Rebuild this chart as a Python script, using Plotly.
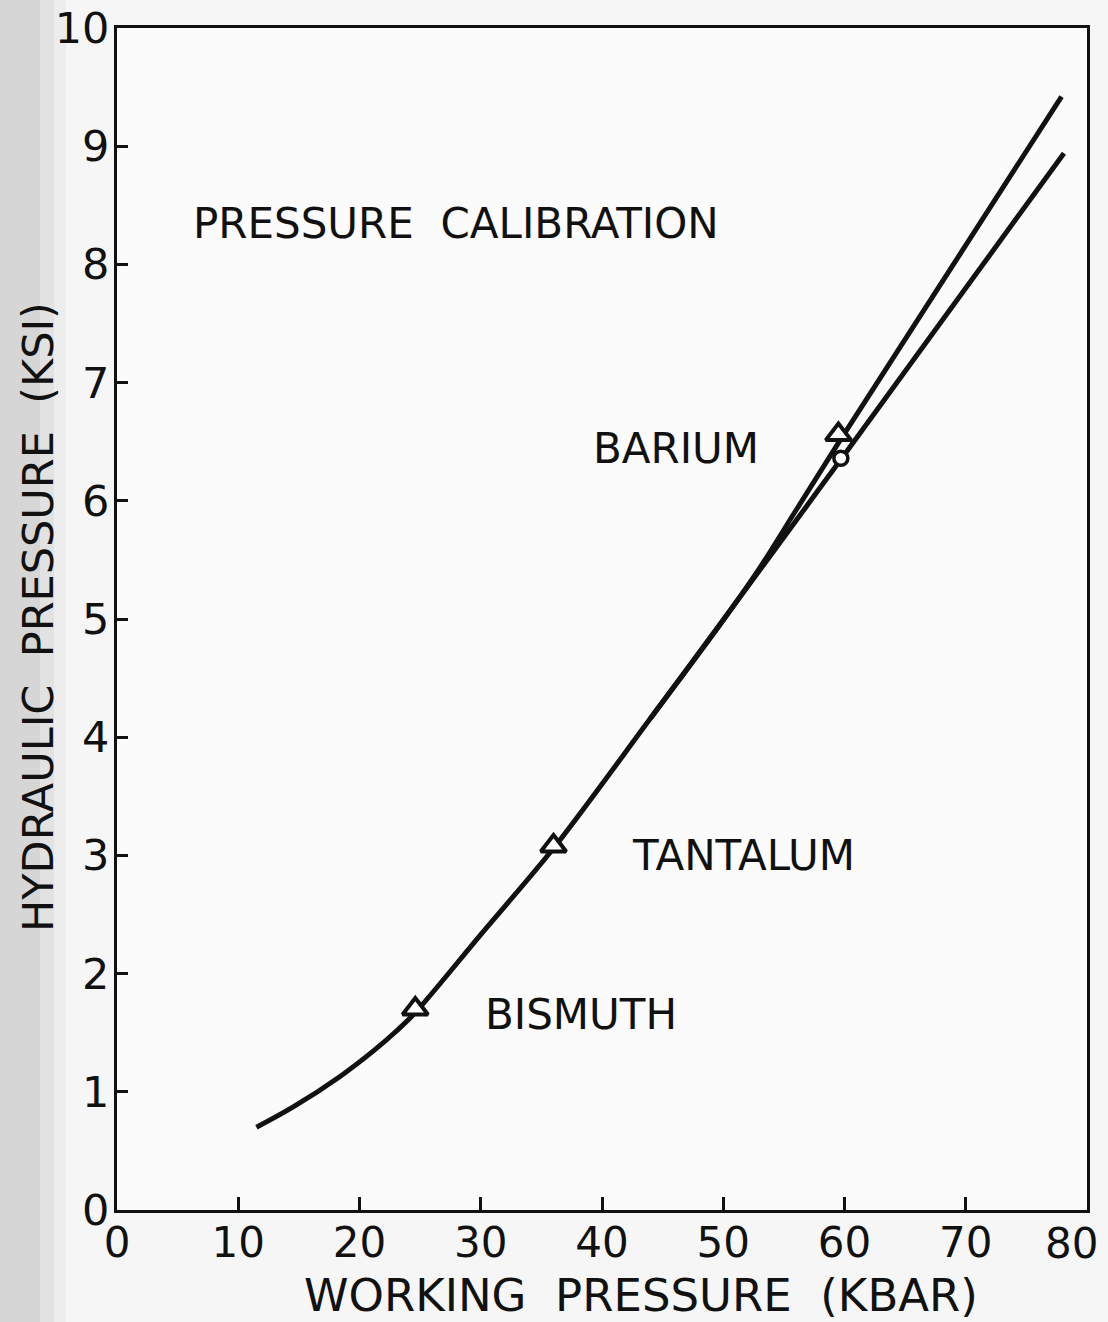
import plotly.graph_objects as go

# Calibration curve (working pressure in kbar vs hydraulic pressure in ksi)
lower_x = [11.5, 14.5, 18.4, 21.2, 23.0, 24.6, 30.0, 36.0, 44.0, 51.2, 57.2, 59.7, 78.1]
lower_y = [0.70, 0.87, 1.13, 1.35, 1.51, 1.67, 2.33, 3.06, 4.16, 5.16, 6.00, 6.35, 8.94]

# Upper branch splitting off above ~50 kbar
upper_x = [44.0, 50.0, 53.0, 56.0, 59.5, 77.9]
upper_y = [4.16, 4.99, 5.43, 5.92, 6.49, 9.42]

# Fixed-point transitions
tri_names = ["BISMUTH", "TANTALUM", "BARIUM"]
tri_x = [24.6, 36.0, 59.5]
tri_y = [1.70, 3.08, 6.56]
circ_x = [59.7]
circ_y = [6.36]

# Text labels on the plot
label_text = ["PRESSURE\u00a0\u00a0CALIBRATION", "BARIUM", "TANTALUM", "BISMUTH"]
label_x = [6.1, 39.1, 42.3, 30.2]
label_y = [8.35, 6.44, 3.0, 1.65]

x_ticks = [0, 10, 20, 30, 40, 50, 60, 70, 80]
y_ticks = [0, 1, 2, 3, 4, 5, 6, 7, 8, 9, 10]

FONT = "DejaVu Sans"
INK = "#111111"

fig = go.Figure()
fig.add_trace(go.Scatter(x=lower_x, y=lower_y, mode="lines",
                         line=dict(color=INK, width=5, shape="spline", smoothing=0.9),
                         hoverinfo="skip"))
fig.add_trace(go.Scatter(x=upper_x, y=upper_y, mode="lines",
                         line=dict(color=INK, width=5, shape="spline", smoothing=0.9),
                         hoverinfo="skip"))
fig.add_trace(go.Scatter(x=tri_x, y=tri_y, mode="markers", text=tri_names,
                         marker=dict(symbol="triangle-up", size=22, color="white",
                                     line=dict(color=INK, width=4))))
fig.add_trace(go.Scatter(x=circ_x, y=circ_y, mode="markers",
                         marker=dict(symbol="circle", size=14, color="white",
                                     line=dict(color=INK, width=3.5))))

for t, x, y in zip(label_text, label_x, label_y):
    fig.add_annotation(x=x, y=y, text=t, showarrow=False, xanchor="left", yanchor="middle",
                       font=dict(family=FONT, size=42, color=INK))

L, R, T, B = 117, 21, 28, 112
pw = 1108 - L - R
ph = 1322 - T - B
bottom = 1322 - B

# The last x tick label sits at the frame corner; draw it nudged inward
x_ticktext = [str(v) for v in x_ticks[:-1]] + [""]
fig.add_annotation(x=x_ticks[-1], y=0, yref="y", xref="x", text=str(x_ticks[-1]),
                   showarrow=False, xanchor="right", yanchor="middle",
                   xshift=13, yshift=-33,
                   font=dict(family=FONT, size=42, color=INK))

# Axis titles placed at fixed page positions
fig.add_annotation(xref="paper", yref="paper", x=(641 - L) / pw, y=(bottom - 1295) / ph,
                   text="WORKING\u00a0\u00a0PRESSURE\u00a0\u00a0(KBAR)", showarrow=False,
                   xanchor="center", yanchor="middle",
                   font=dict(family=FONT, size=45, color=INK))
fig.add_annotation(xref="paper", yref="paper", x=(38 - L) / pw, y=(bottom - 617) / ph,
                   text="HYDRAULIC\u00a0\u00a0PRESSURE\u00a0\u00a0(KSI)", showarrow=False,
                   textangle=-90, xanchor="center", yanchor="middle",
                   font=dict(family=FONT, size=43, color=INK))

# Scanner-edge shading along the left margin
for x0, x1, c in [(0, 40, "#d6d6d6"), (40, 54, "#e2e2e2"), (54, 66, "#ededed")]:
    fig.add_shape(type="rect", xref="paper", yref="paper",
                  x0=(x0 - L) / pw, x1=(x1 - L) / pw, y0=-0.2, y1=1.1,
                  fillcolor=c, line=dict(width=0), layer="below")

fig.update_layout(
    width=1108, height=1322,
    margin=dict(l=L, r=R, t=T, b=B, autoexpand=False),
    paper_bgcolor="#f6f6f6", plot_bgcolor="#fbfbfb",
    showlegend=False,
    font=dict(family=FONT, color=INK),
)
fig.update_xaxes(range=[0, 80], tickvals=x_ticks, ticktext=x_ticktext,
                 ticks="inside", ticklen=13, tickwidth=2.5, tickcolor=INK,
                 showline=True, linecolor=INK, linewidth=3, mirror=True,
                 showgrid=False, zeroline=False, ticklabeloverflow="allow",
                 automargin=False, ticklabelstandoff=-6,
                 tickfont=dict(family=FONT, size=42, color=INK))
fig.update_yaxes(range=[0, 10], tickvals=y_ticks, ticktext=[str(v) for v in y_ticks],
                 ticks="inside", ticklen=11, tickwidth=2.5, tickcolor=INK,
                 showline=True, linecolor=INK, linewidth=3, mirror=True,
                 showgrid=False, zeroline=False, ticklabelstandoff=-4,
                 ticklabeloverflow="allow", automargin=False,
                 tickfont=dict(family=FONT, size=43, color=INK))

fig.write_html("out.html")
